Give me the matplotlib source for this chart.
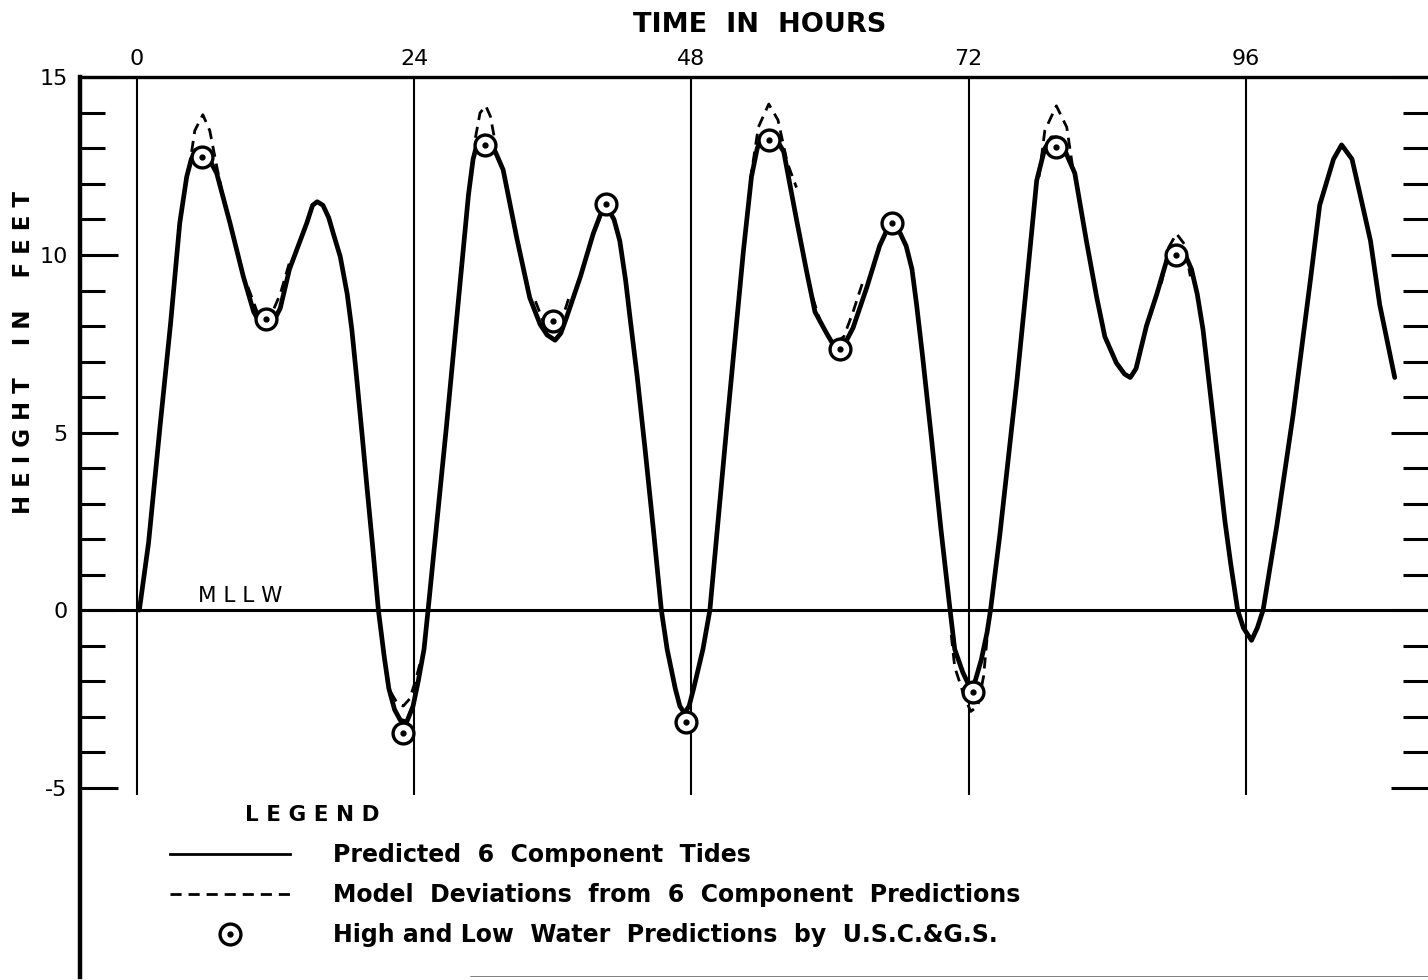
import matplotlib
matplotlib.use('Agg')
import matplotlib.pyplot as plt
from matplotlib.lines import Line2D
from matplotlib.legend_handler import HandlerTuple

# predicted 6 component tide (hours, feet)
hours = [0.2, 1.0, 2.0, 2.9, 3.7, 4.3, 4.7, 5.1, 5.5, 6.0,
         6.9, 8.05, 9.2, 10.1, 10.7, 11.2, 11.7, 12.4, 13.2, 14.7,
         15.2, 15.6, 16.1, 16.6, 17.0, 17.6, 18.2, 18.6, 19.0, 19.5,
         19.9, 20.4, 20.9, 21.4, 21.8, 22.3, 22.8, 23.35, 23.9, 24.35,
         24.85, 25.2, 26.8, 28.2, 28.7, 29.1, 29.5, 30.1, 30.7, 31.7,
         32.9, 34.0, 34.9, 35.5, 36.2, 36.7, 37.2, 38.4, 39.5, 40.2,
         40.7, 41.3, 41.8, 42.3, 42.7, 43.3, 44.0, 44.7, 45.4, 45.9,
         46.6, 47.0, 47.4, 47.8, 48.2, 49.0, 49.6, 51.1, 52.5, 53.2,
         53.7, 54.2, 54.7, 55.3, 56.0, 57.1, 58.0, 58.7, 59.7, 60.6,
         61.2, 62.0, 63.2, 64.3, 65.0, 65.5, 66.1, 66.6, 67.1, 67.5,
         68.0, 68.8, 69.6, 70.4, 70.8, 71.5, 72.3, 73.1, 73.6, 73.9,
         74.7, 76.2, 77.0, 77.9, 78.6, 79.2, 79.6, 80.2, 81.2, 82.2,
         83.1, 83.8, 84.8, 85.5, 86.0, 86.5, 87.4, 88.3, 89.2, 89.7,
         90.1, 90.7, 91.3, 91.8, 92.3, 92.9, 93.5, 94.2, 94.7, 95.3,
         95.8, 96.5, 97.0, 97.5, 98.7, 100.1, 101.6, 102.4, 103.6, 104.3,
         105.2, 105.9, 106.8, 107.6, 108.9]
height = [0.0, 1.9, 5.2, 8.05, 10.9, 12.2, 12.7, 12.95, 13.0, 12.85,
          12.3, 10.9, 9.4, 8.4, 8.05, 7.95, 8.05, 8.5, 9.6, 10.9,
          11.4, 11.5, 11.4, 11.05, 10.6, 9.95, 8.9, 7.9, 6.6, 4.9,
          3.5, 1.8, 0.0, -1.3, -2.2, -2.8, -3.1, -3.15, -2.7, -2.0,
          -1.1, 0.0, 5.2, 10.0, 11.7, 12.7, 13.2, 13.35, 13.15, 12.4,
          10.45, 8.8, 8.05, 7.75, 7.6, 7.8, 8.25, 9.4, 10.6, 11.2,
          11.35, 11.0, 10.4, 9.3, 8.2, 6.6, 4.5, 2.3, 0.0, -1.1,
          -2.2, -2.7, -2.9, -2.7, -2.2, -1.1, 0.0, 5.3, 10.1, 12.2,
          13.0, 13.4, 13.45, 13.3, 12.9, 11.0, 9.5, 8.4, 7.8, 7.3,
          7.45, 7.95, 9.1, 10.26, 10.75, 10.85, 10.6, 10.25, 9.6, 8.6,
          7.2, 4.8, 2.3, 0.0, -1.1, -1.75, -2.3, -1.4, -0.63, 0.0,
          2.1, 6.5, 9.1, 12.1, 13.0, 13.3, 13.3, 13.05, 12.3, 10.4,
          8.8, 7.7, 6.96, 6.65, 6.55, 6.8, 8.0, 8.9, 9.9, 10.2,
          10.25, 10.05, 9.6, 8.9, 7.9, 6.2, 4.5, 2.5, 1.3, 0.0,
          -0.5, -0.85, -0.5, 0.0, 2.4, 5.5, 9.3, 11.4, 12.7, 13.1,
          12.7, 11.7, 10.4, 8.6, 6.55]

# model deviations (dashed pieces near the extremes)
dev_hours = [
    [4.5, 5.0, 5.7, 6.3, 6.9, 7.6],
    [9.6, 10.4, 11.0, 11.6, 12.4, 13.3],
    [21.95, 22.5, 23.05, 23.6, 24.1, 24.5],
    [29.3, 29.7, 30.2, 30.6, 31.0],
    [34.5, 35.2, 36.0, 36.8, 37.5],
    [53.1, 53.8, 54.7, 55.5, 56.3, 57.1],
    [58.5, 59.3, 60.3, 61.2, 62.0, 62.8],
    [70.5, 70.8, 71.7, 72.2, 72.8, 73.3, 73.6],
    [78.1, 78.6, 79.6, 80.5, 81.0],
    [88.7, 89.3, 90.0, 90.7, 91.2],
]
dev_height = [
    [12.4, 13.5, 13.95, 13.5, 12.5, 11.4],
    [9.1, 8.4, 8.15, 8.3, 8.9, 9.9],
    [-2.3, -2.6, -2.7, -2.5, -2.0, -1.5],
    [13.3, 14.0, 14.2, 13.9, 13.2],
    [8.7, 8.1, 8.0, 8.2, 8.9],
    [12.1, 13.6, 14.25, 13.8, 12.6, 11.9],
    [8.8, 8.0, 7.5, 7.7, 8.4, 9.2],
    [-0.7, -1.6, -2.5, -2.85, -2.7, -1.86, -0.8],
    [12.2, 13.5, 14.2, 13.6, 12.5],
    [9.2, 10.2, 10.6, 10.3, 9.4],
]

# U.S.C.&G.S. high and low water predictions
hw_hours = [5.6, 11.2, 23.0, 30.1, 36.0, 40.6, 47.5, 54.7, 60.9, 65.4, 72.35, 79.6, 90.0]
hw_height = [12.75, 8.2, -3.45, 13.1, 8.15, 11.45, -3.15, 13.25, 7.35, 10.9, -2.3, 13.05, 10.0]

day_marks = [0, 24, 48, 72, 96]
y_major = [-5, 0, 5, 10, 15]
y_minor = [-4, -3, -2, -1, 1, 2, 3, 4, 6, 7, 8, 9, 11, 12, 13, 14]

plt.rcParams['font.family'] = ['DejaVu Sans']

fig = plt.figure(figsize=(14.28, 9.8), dpi=100)
ax = fig.add_axes([0.056, 0.003, 0.944, 0.918])
ax.set_xlim(-4.94, 111.78)
ax.set_ylim(-10.33, 15.0)

ax.vlines(day_marks, -5.2, 15, color='black', lw=1.5, zorder=1)
ax.axhline(0, color='black', lw=2.2, zorder=1)

solid, = ax.plot(hours, height, color='black', lw=3.4, solid_capstyle='round',
                 solid_joinstyle='round', zorder=3)
for hx, hy in zip(dev_hours, dev_height):
    ax.plot(hx, hy, color='black', lw=2.0, dashes=(4, 2.5), zorder=2)
circ, = ax.plot(hw_hours, hw_height, ls='none', marker='o', ms=15, mfc='white',
                mec='black', mew=2.4, zorder=4)
dot, = ax.plot(hw_hours, hw_height, ls='none', marker='o', ms=3.5, color='black', zorder=5)

ax.text(5.3, 0.12, 'M L L W', fontsize=15.5, ha='left', va='bottom')

# spines and ticks
for s in ['right', 'bottom']:
    ax.spines[s].set_visible(False)
ax.spines['left'].set_linewidth(3.2)
ax.spines['top'].set_linewidth(2.4)
ax.axhline(-10.33, xmin=0.29, color='0.35', lw=1.8)

ax.xaxis.tick_top()
ax.set_xticks(day_marks)
ax.set_xticklabels([str(d) for d in day_marks])
ax.tick_params(axis='x', length=0, pad=6, labelsize=16)

ax.set_yticks(y_major)
ax.set_yticks(y_minor, minor=True)
ax.set_yticklabels([str(v) for v in y_major])
ax.tick_params(axis='y', which='major', direction='in', length=27, width=2.2,
               left=True, right=True, pad=9, labelsize=16)
ax.tick_params(axis='y', which='minor', direction='in', length=18, width=2.2,
               left=True, right=True)

fig.text(760 / 1428, 1 - 25 / 980, 'TIME  IN  HOURS', fontsize=19.5, fontweight='bold',
         ha='center', va='center')
fig.text(24 / 1428, 1 - 352 / 980, 'H E I G H T    I N    F E E T', fontsize=16.5,
         fontweight='bold', rotation=90, ha='center', va='center')

fig.text(245 / 1428, 1 - 815 / 980, 'L E G E N D', fontsize=15.5, fontweight='bold',
         ha='left', va='center')
leg_line = Line2D([], [], color='black', lw=2.0)
leg_dash = Line2D([], [], color='black', lw=2.0, dashes=(4, 2.5))
leg = ax.legend([leg_line, leg_dash, (circ, dot)],
                ['Predicted  6  Component  Tides',
                 'Model  Deviations  from  6  Component  Predictions',
                 'High and Low  Water  Predictions  by  U.S.C.&G.S.'],
                handler_map={tuple: HandlerTuple(ndivide=1)},
                loc='upper left', bbox_to_anchor=(170 / 1428, 1 - 843 / 980),
                bbox_transform=fig.transFigure, frameon=False,
                prop={'size': 17, 'weight': 'bold'},
                handlelength=5.1, handletextpad=1.8, labelspacing=0.68,
                borderaxespad=0, borderpad=0)

fig.savefig('out.png', dpi=100)
